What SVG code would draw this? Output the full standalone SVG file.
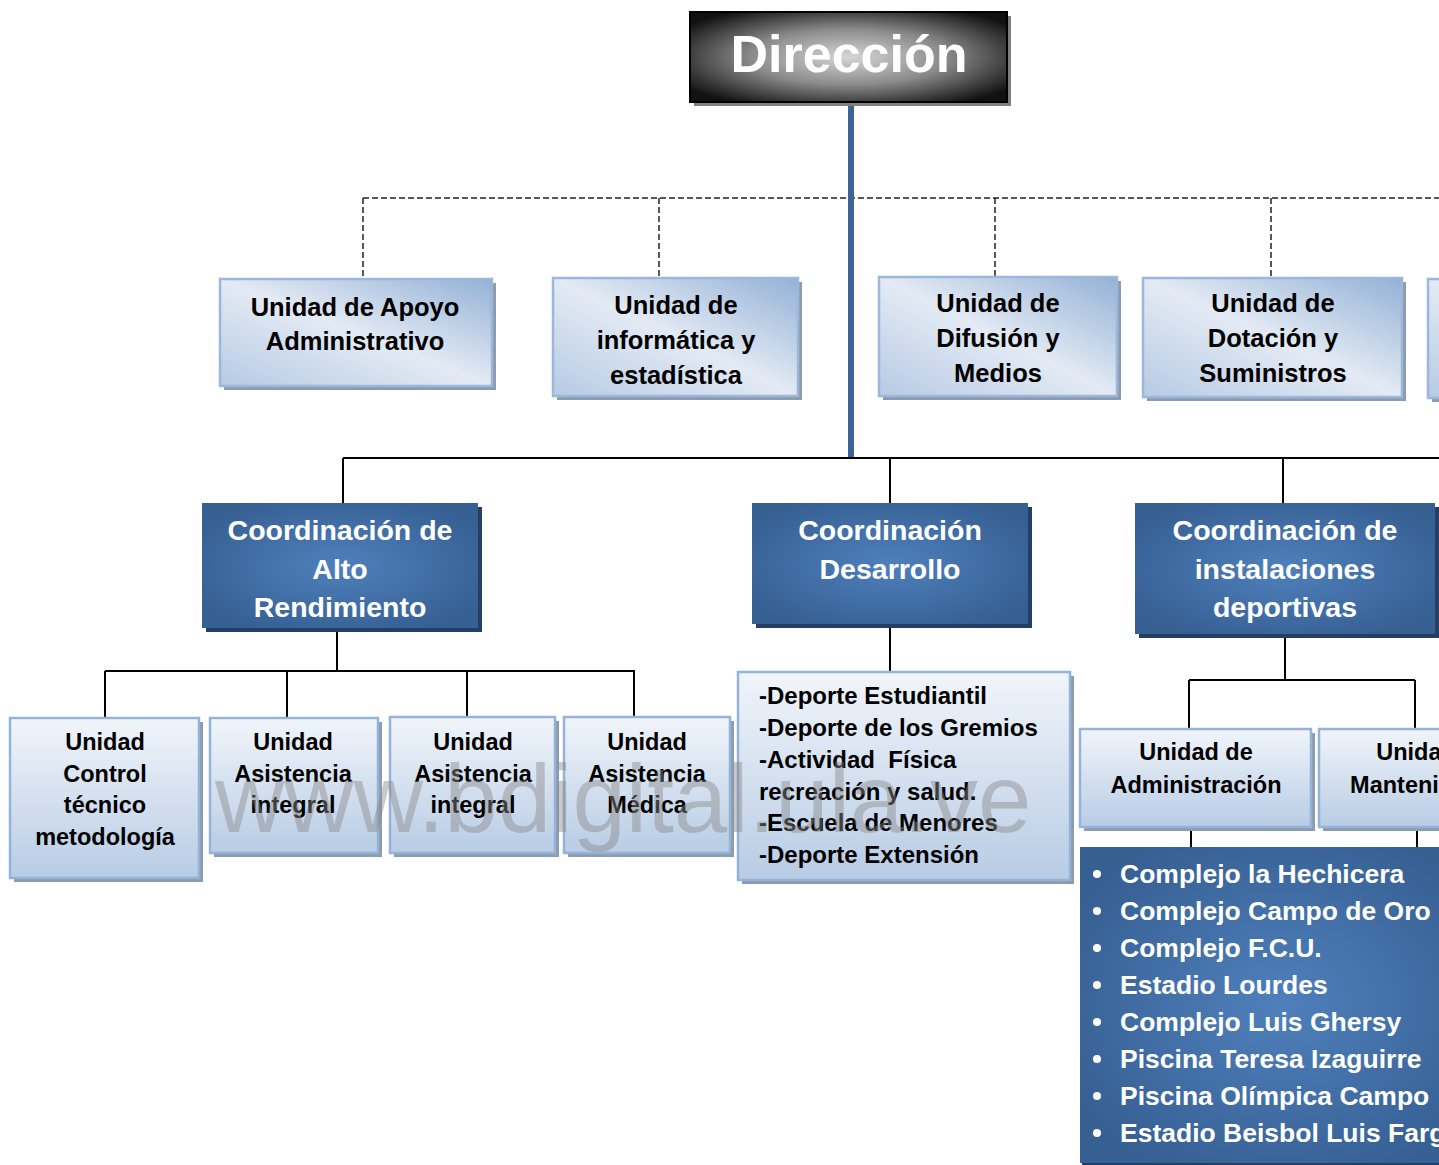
<svg xmlns="http://www.w3.org/2000/svg" width="1439" height="1165" viewBox="0 0 1439 1165">
<defs>
<radialGradient id="gDir" cx="50%" cy="50%" r="62%">
<stop offset="0" stop-color="#d6d6d6"/>
<stop offset="0.5" stop-color="#8a8a8a"/>
<stop offset="1" stop-color="#111111"/>
</radialGradient>
<linearGradient id="gTop" x1="1" y1="0" x2="0" y2="1">
<stop offset="0" stop-color="#93b1d6"/>
<stop offset="0.5" stop-color="#e3eaf4"/>
<stop offset="1" stop-color="#b6cae4"/>
</linearGradient>
<linearGradient id="gLow" x1="0" y1="0" x2="0" y2="1">
<stop offset="0" stop-color="#f1f5fa"/>
<stop offset="1" stop-color="#b8cce5"/>
</linearGradient>
<radialGradient id="gDark" cx="50%" cy="50%" r="60%">
<stop offset="0" stop-color="#4f80bc"/>
<stop offset="1" stop-color="#365f92"/>
</radialGradient>
</defs>
<style>
.sh-l{fill:#8c9bb0}
.sh-d{fill:#243f63}
.bx-top{fill:url(#gTop);stroke:#9bb7da;stroke-width:2.5}
.bx-low{fill:url(#gLow);stroke:#95b3d7;stroke-width:2.5}
.bx-dark{fill:url(#gDark)}
.t{font-family:"Liberation Sans",Arial,sans-serif;font-weight:bold;text-anchor:middle}
.t-top{font-size:25.5px;fill:#000}
.t-small{font-size:23.5px;fill:#000}
.t-coord{font-size:28.5px;fill:#fff}
.t-list{font-family:"Liberation Sans",Arial,sans-serif;font-weight:bold;font-size:24px;fill:#000}
.t-bul{font-family:"Liberation Sans",Arial,sans-serif;font-weight:bold;font-size:26.5px;fill:#fff}
.ln{stroke:#000;stroke-width:2;fill:none}
.dash{stroke:#222;stroke-width:1.5;stroke-dasharray:6 3;fill:none}
</style>

<g id="connectors">
<line class="dash" x1="363" y1="198" x2="1439" y2="198"/>
<line class="dash" x1="363" y1="198" x2="363" y2="279"/>
<line class="dash" x1="659" y1="198" x2="659" y2="278"/>
<line class="dash" x1="995" y1="198" x2="995" y2="277"/>
<line class="dash" x1="1271" y1="198" x2="1271" y2="278"/>
<line x1="851" y1="102" x2="851" y2="459" stroke="#3b6396" stroke-width="6"/>
<line class="ln" x1="343" y1="458" x2="1439" y2="458"/>
<line class="ln" x1="343" y1="458" x2="343" y2="503"/>
<line class="ln" x1="890" y1="458" x2="890" y2="503"/>
<line class="ln" x1="1283" y1="458" x2="1283" y2="503"/>
<line class="ln" x1="337" y1="630" x2="337" y2="671"/>
<line class="ln" x1="105" y1="671" x2="635" y2="671"/>
<line class="ln" x1="105" y1="671" x2="105" y2="717"/>
<line class="ln" x1="287" y1="671" x2="287" y2="717"/>
<line class="ln" x1="467" y1="671" x2="467" y2="717"/>
<line class="ln" x1="634" y1="671" x2="634" y2="717"/>
<line class="ln" x1="890" y1="627" x2="890" y2="672"/>
<line class="ln" x1="1285" y1="637" x2="1285" y2="680"/>
<line class="ln" x1="1189" y1="680" x2="1415" y2="680"/>
<line class="ln" x1="1189" y1="680" x2="1189" y2="729"/>
<line class="ln" x1="1415" y1="680" x2="1415" y2="729"/>
<line class="ln" x1="1191" y1="827" x2="1191" y2="847"/>
<line class="ln" x1="1417" y1="830" x2="1417" y2="847"/>
</g>

<g id="direccion">
<rect x="694" y="16" width="317" height="90" fill="#7f7f7f"/>
<rect x="690" y="12" width="317" height="90" fill="url(#gDir)" stroke="#000" stroke-width="2"/>
<text class="t" x="849" y="72" font-size="52" fill="#fff">Dirección</text>
</g>

<g id="apoyo">
<rect class="sh-l" x="224" y="283" width="272" height="107"/>
<rect class="bx-top" x="220" y="279" width="272" height="107"/>
<text class="t t-top"><tspan x="355" y="316">Unidad de Apoyo</tspan><tspan x="355" y="350">Administrativo</tspan></text>
</g>

<g id="informatica">
<rect class="sh-l" x="557" y="282" width="245" height="118"/>
<rect class="bx-top" x="553" y="278" width="245" height="118"/>
<text class="t t-top"><tspan x="676" y="314">Unidad de</tspan><tspan x="676" y="349">informática y</tspan><tspan x="676" y="384">estadística</tspan></text>
</g>

<g id="difusion">
<rect class="sh-l" x="883" y="281" width="238" height="119"/>
<rect class="bx-top" x="879" y="277" width="238" height="119"/>
<text class="t t-top"><tspan x="998" y="312">Unidad de</tspan><tspan x="998" y="347">Difusión y</tspan><tspan x="998" y="382">Medios</tspan></text>
</g>

<g id="dotacion">
<rect class="sh-l" x="1147" y="282" width="259" height="119"/>
<rect class="bx-top" x="1143" y="278" width="259" height="119"/>
<text class="t t-top"><tspan x="1273" y="312">Unidad de</tspan><tspan x="1273" y="347">Dotación y</tspan><tspan x="1273" y="382">Suministros</tspan></text>
</g>

<g id="unidad-derecha">
<rect class="sh-l" x="1432" y="283" width="260" height="119"/>
<rect class="bx-top" x="1428" y="279" width="260" height="119"/>
</g>

<g id="alto-rendimiento">
<rect class="sh-d" x="206" y="507" width="276" height="125"/>
<rect class="bx-dark" x="202" y="503" width="276" height="125"/>
<text class="t t-coord"><tspan x="340" y="540">Coordinación de</tspan><tspan x="340" y="578.5">Alto</tspan><tspan x="340" y="617">Rendimiento</tspan></text>
</g>

<g id="desarrollo">
<rect class="sh-d" x="756" y="507" width="276" height="121"/>
<rect class="bx-dark" x="752" y="503" width="276" height="121"/>
<text class="t t-coord"><tspan x="890" y="540">Coordinación</tspan><tspan x="890" y="578.5">Desarrollo</tspan></text>
</g>

<g id="instalaciones">
<rect class="sh-d" x="1139" y="507" width="300" height="131"/>
<rect class="bx-dark" x="1135" y="503" width="300" height="131"/>
<text class="t t-coord"><tspan x="1285" y="540">Coordinación de</tspan><tspan x="1285" y="578.5">instalaciones</tspan><tspan x="1285" y="617">deportivas</tspan></text>
</g>

<g id="control-tecnico">
<rect class="sh-l" x="14" y="722" width="189" height="160"/>
<rect class="bx-low" x="10" y="718" width="189" height="160"/>
<text class="t t-small"><tspan x="105" y="750">Unidad</tspan><tspan x="105" y="782">Control</tspan><tspan x="105" y="813">técnico</tspan><tspan x="105" y="845">metodología</tspan></text>
</g>

<g id="asistencia-integral-1">
<rect class="sh-l" x="214" y="722" width="168" height="135"/>
<rect class="bx-low" x="210" y="718" width="168" height="135"/>
<text class="t t-small"><tspan x="293" y="750">Unidad</tspan><tspan x="293" y="782">Asistencia</tspan><tspan x="293" y="813">integral</tspan></text>
</g>

<g id="asistencia-integral-2">
<rect class="sh-l" x="394" y="721" width="165" height="136"/>
<rect class="bx-low" x="390" y="717" width="165" height="136"/>
<text class="t t-small"><tspan x="473" y="750">Unidad</tspan><tspan x="473" y="782">Asistencia</tspan><tspan x="473" y="813">integral</tspan></text>
</g>

<g id="asistencia-medica">
<rect class="sh-l" x="568" y="721" width="166" height="136"/>
<rect class="bx-low" x="564" y="717" width="166" height="136"/>
<text class="t t-small"><tspan x="647" y="750">Unidad</tspan><tspan x="647" y="782">Asistencia</tspan><tspan x="647" y="813">Médica</tspan></text>
</g>

<g id="desarrollo-lista">
<rect class="sh-l" x="742" y="676" width="332" height="208"/>
<rect class="bx-low" x="738" y="672" width="332" height="208"/>
<text class="t-list"><tspan x="759" y="704">-Deporte Estudiantil</tspan><tspan x="759" y="736">-Deporte de los Gremios</tspan><tspan x="759" y="768">-Actividad&#160; Física</tspan><tspan x="759" y="800">recreación y salud.</tspan><tspan x="759" y="831">-Escuela de Menores</tspan><tspan x="759" y="863">-Deporte Extensión</tspan></text>
</g>

<g id="administracion">
<rect class="sh-l" x="1084" y="733" width="231" height="98"/>
<rect class="bx-low" x="1080" y="729" width="231" height="98"/>
<text class="t t-small" font-size="23"><tspan x="1196" y="760">Unidad de</tspan><tspan x="1196" y="793">Administración</tspan></text>
</g>

<g id="mantenimiento">
<rect class="sh-l" x="1323" y="733" width="228" height="98"/>
<rect class="bx-low" x="1319" y="729" width="228" height="98"/>
<text class="t t-small"><tspan x="1433" y="760">Unidad de</tspan><tspan x="1433" y="793">Mantenimiento</tspan></text>
</g>

<g id="instalaciones-lista">
<rect class="sh-d" x="1082" y="849" width="400" height="316"/>
<rect class="bx-dark" x="1080" y="847" width="400" height="316"/>
<g fill="#fff">
<circle cx="1097" cy="874" r="4"/><circle cx="1097" cy="911" r="4"/><circle cx="1097" cy="948" r="4"/><circle cx="1097" cy="985" r="4"/>
<circle cx="1097" cy="1022" r="4"/><circle cx="1097" cy="1059" r="4"/><circle cx="1097" cy="1096" r="4"/><circle cx="1097" cy="1133" r="4"/>
</g>
<text class="t-bul"><tspan x="1120" y="883">Complejo la Hechicera</tspan><tspan x="1120" y="920">Complejo Campo de Oro</tspan><tspan x="1120" y="957">Complejo F.C.U.</tspan><tspan x="1120" y="994">Estadio Lourdes</tspan><tspan x="1120" y="1031">Complejo Luis Ghersy</tspan><tspan x="1120" y="1068">Piscina Teresa Izaguirre</tspan><tspan x="1120" y="1105">Piscina Olímpica Campo</tspan><tspan x="1120" y="1142">Estadio Beisbol Luis Farg</tspan></text>
</g>

<text id="watermark" x="215" y="832" font-family="Liberation Sans,Arial,sans-serif" font-size="96" fill="#8a8a8a" fill-opacity="0.45">www.bdigital.ula.ve</text>
</svg>
